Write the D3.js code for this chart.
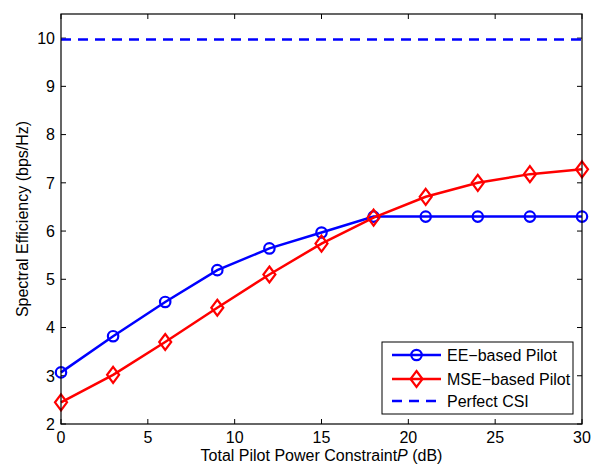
<!DOCTYPE html>
<html>
<head>
<meta charset="utf-8">
<script src="https://cdn.jsdelivr.net/npm/d3@7"></script>
<style>
  html, body { margin: 0; padding: 0; background: #fff; }
  svg text { font-family: "Liberation Sans", Arial, sans-serif; fill: #000; }
</style>
</head>
<body>
<svg id="chart" width="602" height="470"></svg>
<script>
// Total pilot power constraint (dB)
const powerDb = [0, 3, 6, 9, 12, 15, 18, 21, 24, 27, 30];
// Spectral efficiency (bps/Hz)
const eePilot  = [3.07, 3.82, 4.53, 5.19, 5.64, 5.97, 6.30, 6.30, 6.30, 6.30, 6.30];
const msePilot = [2.45, 3.02, 3.70, 4.41, 5.10, 5.74, 6.28, 6.71, 7.00, 7.18, 7.28];
const perfectCsi = 9.97;

const xTicks = [0, 5, 10, 15, 20, 25, 30];
const yTicks = [2, 3, 4, 5, 6, 7, 8, 9, 10];
const legendLabels = ["EE\u2212based Pilot", "MSE\u2212based Pilot", "Perfect CSI"];

const svg = d3.select("#chart");
const L = 61, R = 582, T = 14, B = 424;
const FS = 16;

const x = d3.scaleLinear().domain([0, 30]).range([L, R]);
const y = d3.scaleLinear().domain([2, 10.5]).range([B, T]);

const g = svg.append("g");

const tickLen = 5;
// ticks on all four sides (inward)
xTicks.forEach(t => {
  g.append("line").attr("x1", x(t)).attr("x2", x(t)).attr("y1", B).attr("y2", B - tickLen)
    .attr("stroke", "#000").attr("stroke-width", 1);
  g.append("line").attr("x1", x(t)).attr("x2", x(t)).attr("y1", T).attr("y2", T + tickLen)
    .attr("stroke", "#000").attr("stroke-width", 1);
  g.append("text").attr("x", x(t)).attr("y", B + 19).attr("text-anchor", "middle")
    .attr("font-size", FS).text(t);
});
yTicks.forEach(t => {
  g.append("line").attr("x1", L).attr("x2", L + tickLen).attr("y1", y(t)).attr("y2", y(t))
    .attr("stroke", "#000").attr("stroke-width", 1);
  g.append("line").attr("x1", R).attr("x2", R - tickLen).attr("y1", y(t)).attr("y2", y(t))
    .attr("stroke", "#000").attr("stroke-width", 1);
  g.append("text").attr("x", L - 6).attr("y", y(t)).attr("dy", "0.36em").attr("text-anchor", "end")
    .attr("font-size", FS).text(t);
});

// Perfect CSI reference
g.append("line").attr("x1", x(0)).attr("x2", x(30)).attr("y1", y(perfectCsi)).attr("y2", y(perfectCsi))
  .attr("stroke", "#0000ff").attr("stroke-width", 2.5).attr("stroke-dasharray", "10,7");

const line = d3.line().x((d, i) => x(powerDb[i])).y(d => y(d));

function diamond(sel, cx, cy, s, color) {
  sel.append("path")
    .attr("d", `M${cx},${cy - s}L${cx + s * 0.75},${cy}L${cx},${cy + s}L${cx - s * 0.75},${cy}Z`)
    .attr("fill", "none").attr("stroke", color).attr("stroke-width", 2.2);
}

// EE-based pilot
g.append("path").datum(eePilot).attr("d", line).attr("fill", "none")
  .attr("stroke", "#0000ff").attr("stroke-width", 2.5);
g.selectAll(".ee").data(eePilot).enter().append("circle")
  .attr("cx", (d, i) => x(powerDb[i])).attr("cy", d => y(d)).attr("r", 5.2)
  .attr("fill", "none").attr("stroke", "#0000ff").attr("stroke-width", 2.2);

// MSE-based pilot
g.append("path").datum(msePilot).attr("d", line).attr("fill", "none")
  .attr("stroke", "#ff0000").attr("stroke-width", 2.5);
msePilot.forEach((d, i) => diamond(g, x(powerDb[i]), y(d), 8, "#ff0000"));

// frame
g.append("rect").attr("x", L).attr("y", T).attr("width", R - L).attr("height", B - T)
  .attr("fill", "none").attr("stroke", "#000").attr("stroke-width", 1.2);

// axis labels
const xl = g.append("text").attr("x", (L + R) / 2).attr("y", 461).attr("text-anchor", "middle")
  .attr("font-size", FS);
xl.append("tspan").text("Total Pilot Power Constraint");
xl.append("tspan").attr("font-style", "italic").text("P");
xl.append("tspan").text(" (dB)");

g.append("text").attr("transform", `translate(28,${(T + B) / 2}) rotate(-90)`)
  .attr("text-anchor", "middle").attr("font-size", FS).text("Spectral Efficiency (bps/Hz)");

// legend
const lg = g.append("g");
const lx = 382, ly = 342, lw = 191, lh = 72;
lg.append("rect").attr("x", lx).attr("y", ly).attr("width", lw).attr("height", lh)
  .attr("fill", "#fff").attr("stroke", "#000").attr("stroke-width", 1);
const rowY = [ly + 13, ly + 37, ly + 59];
const lineX0 = lx + 10, lineX1 = lx + 59, midX = (lineX0 + lineX1) / 2;
// row 1
lg.append("line").attr("x1", lineX0).attr("x2", lineX1).attr("y1", rowY[0]).attr("y2", rowY[0])
  .attr("stroke", "#0000ff").attr("stroke-width", 2.5);
lg.append("circle").attr("cx", midX).attr("cy", rowY[0]).attr("r", 5.2)
  .attr("fill", "none").attr("stroke", "#0000ff").attr("stroke-width", 2.2);
// row 2
lg.append("line").attr("x1", lineX0).attr("x2", lineX1).attr("y1", rowY[1]).attr("y2", rowY[1])
  .attr("stroke", "#ff0000").attr("stroke-width", 2.5);
diamond(lg, midX, rowY[1], 8, "#ff0000");
// row 3
lg.append("line").attr("x1", lineX0).attr("x2", lineX1).attr("y1", rowY[2]).attr("y2", rowY[2])
  .attr("stroke", "#0000ff").attr("stroke-width", 2.5).attr("stroke-dasharray", "10,7");
legendLabels.forEach((t, i) => {
  lg.append("text").attr("x", lx + 65).attr("y", rowY[i]).attr("dy", "0.36em")
    .attr("font-size", FS).text(t);
});
</script>
</body>
</html>
